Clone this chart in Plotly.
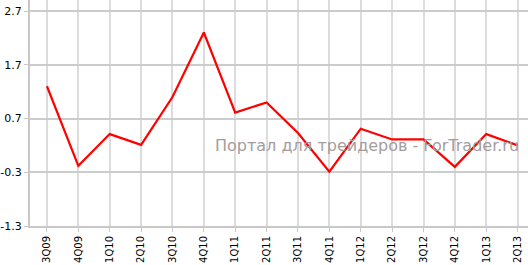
import plotly.graph_objects as go

quarters = ["3Q09", "4Q09", "1Q10", "2Q10", "3Q10", "4Q10", "1Q11", "2Q11",
            "3Q11", "4Q11", "1Q12", "2Q12", "3Q12", "4Q12", "1Q13", "2Q13"]
values = [1.30, -0.18, 0.41, 0.21, 1.10, 2.30, 0.81, 1.00,
          0.43, -0.29, 0.51, 0.31, 0.31, -0.20, 0.41, 0.20]
y_ticks = [-1.3, -0.3, 0.7, 1.7, 2.7]

fig = go.Figure()
fig.add_trace(go.Scatter(x=quarters, y=values, mode="lines",
                         line=dict(color="#ff0000", width=2.2)))

fig.update_layout(
    width=528, height=265,
    margin=dict(l=28, r=0, t=0, b=39),
    paper_bgcolor="white", plot_bgcolor="white",
    showlegend=False,
    font=dict(family="DejaVu Sans", color="#000000"),
    xaxis=dict(type="category", range=[-0.54, 15.33],
               showgrid=True, gridcolor="#dcdcdc", gridwidth=1.5,
               showline=True, linecolor="#c8c8c8", linewidth=2,
               ticks="outside", ticklen=4, tickcolor="#c8c8c8",
               tickangle=-90, tickfont=dict(size=10), zeroline=False),
    yaxis=dict(range=[-1.3, 2.905], tickvals=y_ticks,
               ticktext=[f"{v:.1f}" for v in y_ticks],
               showgrid=True, gridcolor="#cccccc", gridwidth=1.5,
               showline=True, linecolor="#c8c8c8", linewidth=2,
               ticks="outside", ticklen=4, tickcolor="#c8c8c8",
               tickfont=dict(size=11), zeroline=False),
    annotations=[dict(text="Портал для трейдеров - ForTrader.ru",
                      xref="paper", yref="paper", x=0.985, y=0.355,
                      xanchor="right", yanchor="middle", showarrow=False,
                      font=dict(family="DejaVu Sans", size=16, color="#a59c9c"))],
)

fig.write_html("out.html")
